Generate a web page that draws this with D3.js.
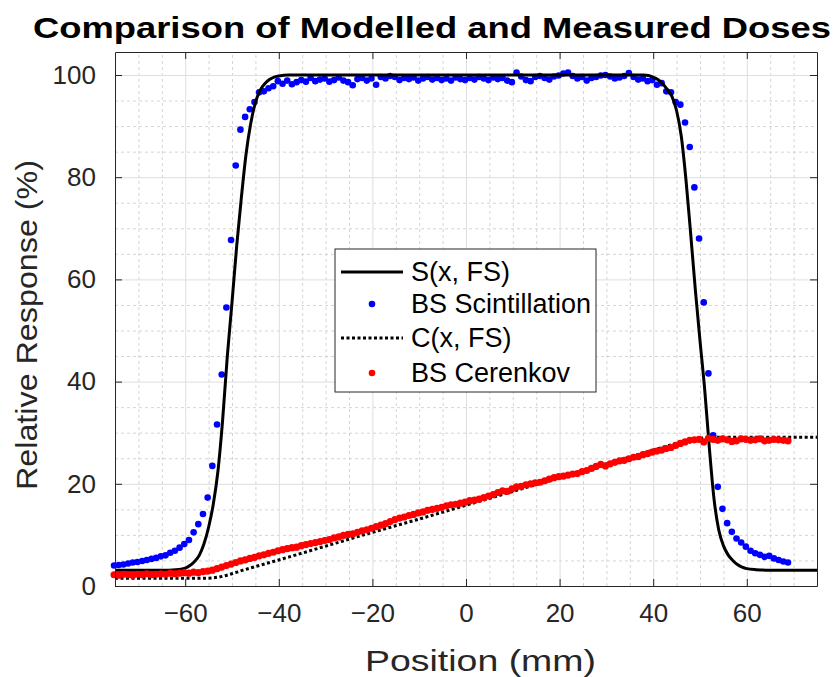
<!DOCTYPE html>
<html>
<head>
<meta charset="utf-8">
<script src="https://cdn.jsdelivr.net/npm/d3@7"></script>
<style>
  body { margin: 0; background: #fff; }
  text { font-family: "Liberation Sans", Arial, Helvetica, sans-serif; }
</style>
</head>
<body>
<div id="chart"></div>
<script>
// positions (mm) of the measured points
const positions = [
  -75.2,-74.2,-73.2,-72.2,-71.2,-70.2,-69.2,-68.2,-67.2,-66.2,
  -65.2,-64.2,-63.2,-62.2,-61.2,-60.2,-59.2,-58.2,-57.2,-56.2,
  -55.2,-54.2,-53.2,-52.2,-51.2,-50.2,-49.2,-48.2,-47.2,-46.2,
  -45.2,-44.2,-43.2,-42.2,-41.2,-40.2,-39.2,-38.2,-37.2,-36.2,
  -35.2,-34.2,-33.2,-32.2,-31.2,-30.2,-29.2,-28.2,-27.2,-26.2,
  -25.2,-24.2,-23.2,-22.2,-21.2,-20.2,-19.2,-18.2,-17.2,-16.2,
  -15.2,-14.2,-13.2,-12.2,-11.2,-10.2,-9.2,-8.2,-7.2,-6.2,
  -5.2,-4.2,-3.2,-2.2,-1.2,-0.2,0.8,1.8,2.8,3.8,
  4.8,5.8,6.8,7.8,8.8,9.8,10.8,11.8,12.8,13.8,
  14.8,15.8,16.8,17.8,18.8,19.8,20.8,21.8,22.8,23.8,
  24.8,25.8,26.8,27.8,28.8,29.8,30.8,31.8,32.8,33.8,
  34.8,35.8,36.8,37.8,38.8,39.8,40.8,41.8,42.8,43.8,
  44.8,45.8,46.8,47.8,48.8,49.8,50.8,51.8,52.8,53.8,
  54.8,55.8,56.8,57.8,58.8,59.8,60.8,61.8,62.8,63.8,
  64.8,65.8,66.8,67.8,68.8
]

// BS Scintillation (%)
const scintValues = [
  4.0,4.1,4.2,4.4,4.6,4.7,4.9,5.1,5.3,5.5,
  5.8,6.0,6.5,6.9,7.5,8.2,9.0,10.5,12.1,14.1,
  17.3,23.5,31.6,41.4,54.5,67.7,82.3,89.3,91.8,93.3,
  94.7,96.6,96.8,97.4,97.8,98.8,98.3,98.9,98.2,98.6,
  99.0,98.7,99.4,98.8,99.1,99.3,98.7,99.0,99.5,98.9,
  98.6,98.0,99.2,99.4,98.9,99.3,98.1,99.6,99.3,99.8,
  99.6,99.0,99.4,99.2,99.5,98.9,99.3,99.6,99.1,99.4,
  99.0,99.3,98.9,99.5,99.2,99.0,99.4,99.1,99.6,99.3,
  99.0,99.5,99.2,99.4,98.9,98.6,100.5,99.7,99.0,98.8,
  99.6,99.8,99.4,99.1,99.7,99.9,100.3,100.5,99.8,99.3,
  99.6,98.9,99.4,99.6,99.9,100.0,99.7,99.3,99.5,99.8,
  100.4,99.6,99.1,99.3,98.8,99.0,98.1,98.4,96.8,96.6,
  94.7,94.2,90.7,85.9,78.0,68.0,55.5,41.6,29.5,19.4,
  15.1,12.3,10.6,9.3,8.5,7.7,6.9,6.4,6.1,5.7,
  5.9,5.4,5.1,4.8,4.6
]

// BS Cerenkov (%)
const cerenkovValues = [
  2.2,2.1,2.3,2.2,2.1,2.3,2.2,2.4,2.2,2.3,
  2.4,2.3,2.5,2.4,2.5,2.6,2.5,2.7,2.6,2.8,
  2.9,3.1,3.4,3.7,4.0,4.3,4.6,4.9,5.1,5.4,
  5.6,5.9,6.1,6.4,6.6,6.9,7.1,7.3,7.5,7.6,
  7.9,8.1,8.3,8.5,8.7,8.9,9.1,9.4,9.6,9.9,
  10.1,10.2,10.5,10.8,11.0,11.3,11.6,11.9,12.2,12.6,
  13.0,13.3,13.5,13.8,14.0,14.3,14.5,14.8,15.0,15.2,
  15.4,15.7,15.9,16.0,16.2,16.4,16.7,16.8,17.0,17.3,
  17.6,17.9,18.3,18.6,18.5,19.0,19.4,19.5,19.8,20.0,
  20.2,20.3,20.6,20.9,21.2,21.4,21.5,21.7,21.9,22.0,
  22.4,22.6,23.0,23.4,23.8,23.5,23.9,24.2,24.5,24.6,
  24.9,25.2,25.3,25.7,25.9,26.2,26.4,26.6,26.9,27.1,
  27.5,27.9,28.2,28.5,28.6,28.7,28.2,28.9,28.7,28.5,
  28.8,28.6,28.3,28.4,28.8,28.7,28.5,28.6,28.8,28.4,
  28.5,28.7,28.6,28.5,28.4
]

// S(x, FS) model
const sModelX = [-75,-65,-62,-60,-59,-58,-57,-56,-55,-54,-53,-52,-51,-50,-49,-48,-47,-46,-45,-44,-43,-42,-41,-40,-38,-35,
  35,38,40,41,42,43,44,45,46,47,48,49,50,51,52,53,54,55,56,57,58,59,60,62,65,75]
const sModelY = [3.1,3.1,3.2,3.5,4.0,4.8,6.0,8.2,11.5,16.0,22.5,32.5,45,55.5,66.5,76,84.5,90.5,94.6,97.0,98.3,99.1,99.6,99.8,100,100,
  100,100,99.6,99.1,98.3,97.2,95.8,93,88,79.5,69,58,48,38.5,27,17,11,7.9,6.1,5.0,4.2,3.7,3.4,3.2,3.1,3.1]

// C(x, FS) model
const cModelX = [-75,-56,-54,-52,-50,-48,-45,-40,-30,-20,-10,0,10,20,30,40,45,47,49,51,53,75]
const cModelY = [1.5,1.5,1.6,1.9,2.4,3.0,3.8,5.1,7.8,10.5,13.1,15.8,18.5,21.2,23.9,26.6,27.9,28.4,28.8,29.0,29.1,29.1]

const xTicks = [-60, -40, -20, 0, 20, 40, 60]
const yTicks = [0, 20, 40, 60, 80, 100]
const legendLabels = ["S(x, FS)", "BS Scintillation", "C(x, FS)", "BS Cerenkov"]

function drawChart() {
    const scint = positions.map((x, i) => ({ x, y: scintValues[i] }))
    const cerenkov = positions.map((x, i) => ({ x, y: cerenkovValues[i] }))
    const sModel = sModelX.map((x, i) => ({ x, y: sModelY[i] }))
    const cModel = cModelX.map((x, i) => ({ x, y: cModelY[i] }))

    const xAccessor = d => d.x
    const yAccessor = d => d.y

    const dimensions = {
        width: 833,
        height: 677,
        margins: { top: 52, right: 16, bottom: 91, left: 115 }
    }
    dimensions.boundedWidth = dimensions.width - dimensions.margins.left - dimensions.margins.right
    dimensions.boundedHeight = dimensions.height - dimensions.margins.top - dimensions.margins.bottom

    const wrapper = d3.select("#chart").append("svg")
        .attr("width", dimensions.width)
        .attr("height", dimensions.height)

    const bounds = wrapper.append("g")
        .attr("transform", `translate(${dimensions.margins.left},${dimensions.margins.top})`)

    // Scales
    const xScale = d3.scaleLinear()
        .domain([-75, 75])
        .range([0, dimensions.boundedWidth])
    const yScale = d3.scaleLinear()
        .domain([0, 104.5])
        .range([dimensions.boundedHeight, 0])

    // Minor grid (dotted)
    const minorX = d3.range(-75, 76, 5).filter(v => v % 20 !== 0)
    const minorY = d3.range(5, 105, 5).filter(v => v % 20 !== 0)
    const grid = bounds.append("g")
    grid.append("g")
        .attr("transform", `translate(0,${dimensions.boundedHeight})`)
        .call(d3.axisBottom(xScale).tickValues(minorX).tickSize(-dimensions.boundedHeight).tickFormat(""))
        .call(g => g.select(".domain").remove())
        .call(g => g.selectAll("line").attr("stroke", "#d4d4d4").attr("stroke-dasharray", "3,3"))
    grid.append("g")
        .call(d3.axisLeft(yScale).tickValues(minorY).tickSize(-dimensions.boundedWidth).tickFormat(""))
        .call(g => g.select(".domain").remove())
        .call(g => g.selectAll("line").attr("stroke", "#d4d4d4").attr("stroke-dasharray", "3,3"))

    // Major grid
    grid.append("g")
        .attr("transform", `translate(0,${dimensions.boundedHeight})`)
        .call(d3.axisBottom(xScale).tickValues(xTicks).tickSize(-dimensions.boundedHeight).tickFormat(""))
        .call(g => g.select(".domain").remove())
        .call(g => g.selectAll("line").attr("stroke", "#dedede"))
    grid.append("g")
        .call(d3.axisLeft(yScale).tickValues(yTicks).tickSize(-dimensions.boundedWidth).tickFormat(""))
        .call(g => g.select(".domain").remove())
        .call(g => g.selectAll("line").attr("stroke", "#dedede"))

    // Data
    const lineGenerator = d3.line()
        .x(d => xScale(xAccessor(d)))
        .y(d => yScale(yAccessor(d)))
        .curve(d3.curveMonotoneX)

    bounds.append("path")
        .attr("d", lineGenerator(cModel))
        .attr("fill", "none")
        .attr("stroke", "#000")
        .attr("stroke-width", 3)
        .attr("stroke-dasharray", "3,2.5")

    bounds.append("g").selectAll("circle")
        .data(scint)
        .join("circle")
        .attr("cx", d => xScale(xAccessor(d)))
        .attr("cy", d => yScale(yAccessor(d)))
        .attr("r", 3.3)
        .attr("fill", "#0000ff")

    bounds.append("path")
        .attr("d", lineGenerator(sModel))
        .attr("fill", "none")
        .attr("stroke", "#000")
        .attr("stroke-width", 3)

    bounds.append("g").selectAll("circle")
        .data(cerenkov)
        .join("circle")
        .attr("cx", d => xScale(xAccessor(d)))
        .attr("cy", d => yScale(yAccessor(d)))
        .attr("r", 3.6)
        .attr("fill", "#ff0000")

    // Axes box and ticks
    const axisColor = "#262626"
    const axes = bounds.append("g")
    axes.append("g")
        .attr("transform", `translate(0,${dimensions.boundedHeight})`)
        .call(d3.axisBottom(xScale).tickValues(xTicks).tickSizeInner(-7).tickSizeOuter(0).tickPadding(18)
            .tickFormat(d => d < 0 ? "\u2212" + Math.abs(d) : d))
    axes.append("g")
        .call(d3.axisLeft(yScale).tickValues(yTicks).tickSizeInner(-7).tickSizeOuter(0).tickPadding(19))
    axes.append("g")
        .call(d3.axisTop(xScale).tickValues(xTicks).tickSizeInner(-7).tickSizeOuter(0).tickFormat(""))
    axes.append("g")
        .attr("transform", `translate(${dimensions.boundedWidth},0)`)
        .call(d3.axisRight(yScale).tickValues(yTicks).tickSizeInner(-7).tickSizeOuter(0).tickFormat(""))
    axes.selectAll(".domain, .tick line").attr("stroke", axisColor)
    axes.selectAll(".tick text")
        .attr("fill", axisColor)
        .style("font-size", "26px")
        .style("font-family", "'Liberation Sans', Arial, sans-serif")

    // Title and labels
    wrapper.append("text")
        .attr("x", 33)
        .attr("y", 38)
        .attr("textLength", 798)
        .attr("lengthAdjust", "spacingAndGlyphs")
        .style("font-size", "30px")
        .style("font-weight", "bold")
        .attr("fill", "#000")
        .text("Comparison of Modelled and Measured Doses")

    wrapper.append("text")
        .attr("x", 365)
        .attr("y", 671)
        .attr("textLength", 231)
        .attr("lengthAdjust", "spacingAndGlyphs")
        .style("font-size", "30px")
        .attr("fill", axisColor)
        .text("Position (mm)")

    wrapper.append("text")
        .attr("transform", `translate(37,490) rotate(-90)`)
        .attr("textLength", 330)
        .attr("lengthAdjust", "spacingAndGlyphs")
        .style("font-size", "30px")
        .attr("fill", axisColor)
        .text("Relative Response (%)")

    // Legend
    const legend = wrapper.append("g")
        .attr("transform", "translate(335,249)")
    legend.append("rect")
        .attr("width", 261)
        .attr("height", 143)
        .attr("fill", "#fff")
        .attr("stroke", axisColor)
        .attr("stroke-width", 1)
    const rowY = [23, 55, 89, 124]
    const rows = legend.selectAll("g.row")
        .data(legendLabels)
        .join("g")
        .attr("class", "row")
        .attr("transform", (d, i) => `translate(0,${rowY[i]})`)
    rows.append("text")
        .attr("x", 76)
        .attr("dy", "0.35em")
        .style("font-size", "27px")
        .attr("fill", "#000")
        .text(d => d)
    rows.filter((d, i) => i === 0).append("line")
        .attr("x1", 6).attr("x2", 68)
        .attr("stroke", "#000").attr("stroke-width", 3)
    rows.filter((d, i) => i === 2).append("line")
        .attr("x1", 6).attr("x2", 68)
        .attr("stroke", "#000").attr("stroke-width", 3)
        .attr("stroke-dasharray", "3,2.5")
    rows.filter((d, i) => i === 1).append("circle")
        .attr("cx", 37).attr("r", 3.3).attr("fill", "#0000ff")
    rows.filter((d, i) => i === 3).append("circle")
        .attr("cx", 37).attr("r", 3.3).attr("fill", "#ff0000")
}

drawChart()
</script>
</body>
</html>
